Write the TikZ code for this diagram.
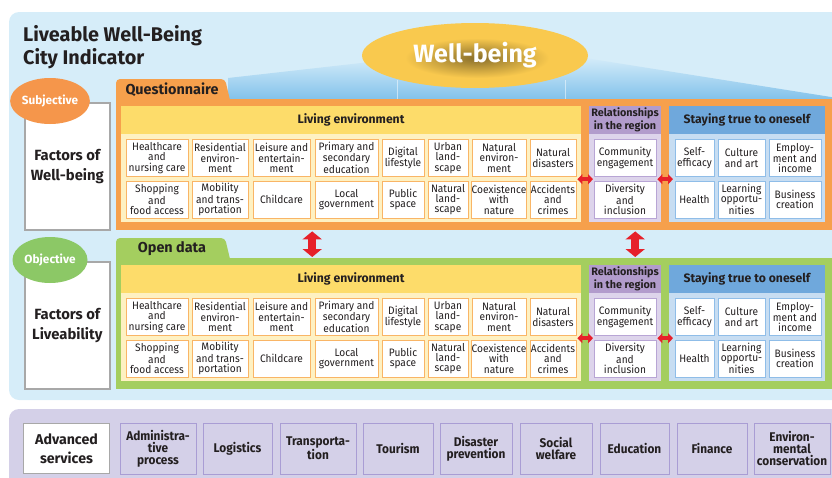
\documentclass[tikz,border=0pt]{standalone}
\usepackage{fontspec}
\setmainfont{Fira Sans}
\newfontfamily\condfont{Fira Sans}[FakeStretch=0.94]
\usetikzlibrary{arrows.meta,shapes.geometric}

\definecolor{ink}{HTML}{231F20}
\definecolor{skyback}{HTML}{D6EDF9}
\definecolor{beamtop}{HTML}{D3EBF9}
\definecolor{beambot}{HTML}{80C1EA}
\definecolor{wbyellow}{HTML}{F9C94E}
\definecolor{qorange}{HTML}{F6A04C}
\definecolor{subjorange}{HTML}{F5964B}
\definecolor{ogreen}{HTML}{A4CE5F}
\definecolor{objgreen}{HTML}{8CC866}
\definecolor{lehead}{HTML}{FDDC6A}
\definecolor{lebody}{HTML}{FEF1C2}
\definecolor{leline}{HTML}{F9B566}
\definecolor{relhead}{HTML}{B29CCC}
\definecolor{relbody}{HTML}{DDD4EB}
\definecolor{relline}{HTML}{B8A5D5}
\definecolor{sthead}{HTML}{6FA8DC}
\definecolor{stbody}{HTML}{C7DDF2}
\definecolor{stline}{HTML}{8FBDE8}
\definecolor{advback}{HTML}{D4D0E8}
\definecolor{advline}{HTML}{A99DD4}
\definecolor{boxgray}{HTML}{A8A8A8}
\definecolor{arrred}{HTML}{E6202A}

\tikzset{
  cell/.style={draw=#1, fill=white, line width=0.9pt, inner sep=0pt, align=center,
    minimum height=37pt, text=ink, font=\condfont\fontsize{10.8}{10.4}\selectfont},
  panelbox/.style={inner sep=0pt, anchor=north west},
  headtext/.style={text=ink, align=center, font=\fontsize{12.2}{13}\selectfont\bfseries},
  factorbox/.style={draw=boxgray, line width=1.6pt, fill=white, minimum width=85pt,
    inner sep=0pt, align=center, text=ink, font=\fontsize{14.8}{19.5}\selectfont\bfseries},
  tag/.style={ellipse, minimum width=75pt, minimum height=46pt, inner sep=0pt,
    text=white, font=\fontsize{11.8}{13}\selectfont\bfseries},
  harrow/.style={draw=arrred, line width=4pt, shorten <=-4pt, shorten >=-4pt,
    {Triangle[length=5pt,width=10pt]}-{Triangle[length=5pt,width=10pt]}},
  varrow/.style={draw=arrred, line width=7.5pt, shorten <=1pt, shorten >=1pt,
    {Triangle[length=8pt,width=19pt]}-{Triangle[length=8pt,width=19pt]}},
  service/.style={draw=advline, line width=1pt, fill=advback, minimum height=51pt,
    inner sep=0pt, align=center, text=ink, font=\condfont\fontsize{12.6}{11.8}\selectfont\bfseries}
}

\begin{document}
\begin{tikzpicture}[x=1pt,y=-1pt]
\useasboundingbox (0,0) rectangle (832,477);
\clip (0,0) rectangle (832,477);
\fill[skyback, rounded corners=10pt] (9,12) rectangle (860,400);
\fill[advback, rounded corners=10pt] (9,409) rectangle (860,500);

\node[anchor=north west, align=left, inner sep=0pt, text=ink,
  font=\fontsize{19.8}{23.5}\selectfont\bfseries] (title) at (23,25) {Liveable Well-Being\\City Indicator};

\shade[top color=beamtop, bottom color=beambot] (228,100) -- (228,78) -- (370,62) -- (585,58) -- (850,100) -- cycle;
\draw[white, opacity=.5] (397,80) -- (397,100) (565,80) -- (565,100);
\node[ellipse, fill=wbyellow, minimum width=226pt, minimum height=65pt] (wb) at (475,55.5) {};
\shade[inner color=black!45!wbyellow, outer color=wbyellow] (477,58) ellipse [x radius=72, y radius=20];
\node[text=white, font=\fontsize{25}{27}\selectfont\bfseries] (wbtext) at (wb) {Well-being};

\foreach \p/\dy/\pc/\ec/\tab/\kind/\fac in {q/0/qorange/subjorange/Questionnaire/Subjective/{Factors of\\Well-being},
    o/159/ogreen/objgreen/Open data/Objective/{Factors of\\Liveability}}{
  \begin{scope}[yshift={-\dy pt}]
    \fill[\pc] (116,100) [rounded corners=4pt] -- (116,79) -- (225,79) [sharp corners] -- (230,100) -- cycle;
    \node[panelbox, fill=\pc, minimum width=734pt, minimum height=131pt] (\p-panel) at (116,99) {};
    \node[text=ink, font=\fontsize{14.4}{15}\selectfont\bfseries] (\p-tab) at (172,90) {\tab};
    \node[factorbox, minimum height=127pt, anchor=north west] (\p-fac) at (24,102) {\fac};
    \node[tag, fill=\ec] (\p-tag) at (50,101) {\kind};

    \node[panelbox, fill=lebody, minimum width=460pt, minimum height=116pt] (\p-le) at (121,106) {};
    \fill[lehead] (121,106) rectangle (581,134);
    \node[headtext] (\p-leh) at (351,120) {Living environment};
    \foreach \l/\r/\ta/\tb [count=\i] in {126/188/{Healthcare\\and\\nursing care}/{Shopping\\and\\food access},
        192/248/{Residential\\environ-\\ment}/{Mobility\\and trans-\\portation},
        253/310/{Leisure and\\entertain-\\ment}/Childcare,
        315/378/{Primary and\\secondary\\education}/{Local\\government},
        382/424/{Digital\\lifestyle}/{Public\\space},
        428/468/{Urban\\land-\\scape}/{Natural\\land-\\scape},
        472/526/{Natural\\environ-\\ment}/{Coexistence\\with\\nature},
        530/576/{Natural\\disasters}/{Accidents\\and\\crimes}}{
      \node[cell=leline, minimum width={(\r-\l)*1pt}] (\p-le-1-\i) at ({(\l+\r)/2},158) {\ta};
      \node[cell=leline, minimum width={(\r-\l)*1pt}] (\p-le-2-\i) at ({(\l+\r)/2},199.5) {\tb};
    }

    \node[panelbox, fill=relbody, minimum width=72pt, minimum height=116pt] (\p-rel) at (589,106) {};
    \fill[relhead] (589,106) rectangle (661,134);
    \node[headtext, font=\fontsize{10.8}{13}\selectfont\bfseries] (\p-relh) at (625,120) {Relationships\\in the region};
    \node[cell=relline, minimum width=62pt] (\p-rel-1) at (625,158) {Community\\engagement};
    \node[cell=relline, minimum width=62pt] (\p-rel-2) at (625,199.5) {Diversity\\and\\inclusion};

    \node[panelbox, fill=stbody, minimum width=156pt, minimum height=116pt] (\p-st) at (669,106) {};
    \fill[sthead] (669,106) rectangle (825,134);
    \node[headtext] (\p-sth) at (747,120) {Staying true to oneself};
    \foreach \l/\r/\ta/\tb [count=\i] in {675/714/{Self-\\efficacy}/Health,
        718/765/{Culture\\and art}/{Learning\\opportu-\\nities},
        769/821/{Employ-\\ment and\\income}/{Business\\creation}}{
      \node[cell=stline, minimum width={(\r-\l)*1pt}] (\p-st-1-\i) at ({(\l+\r)/2},158) {\ta};
      \node[cell=stline, minimum width={(\r-\l)*1pt}] (\p-st-2-\i) at ({(\l+\r)/2},199.5) {\tb};
    }

    \draw[harrow] ([yshift=-15pt]\p-le.east) -- ([yshift=-15pt]\p-rel.west);
    \draw[harrow] ([yshift=-15pt]\p-rel.east) -- ([yshift=-15pt]\p-st.west);
  \end{scope}
}

\draw[varrow] ([xshift=-171pt]q-panel.south) -- ([xshift=-171pt]o-panel.north);
\draw[varrow] ([xshift=152pt]q-panel.south) -- ([xshift=152pt]o-panel.north);

\node[factorbox, minimum width=86pt, minimum height=50pt, font=\fontsize{14.2}{19}\selectfont\bfseries] (adv) at (66.5,448.5) {Advanced\\services};
\foreach \l/\r/\t [count=\i] in {120/196/{Administra-\\tive\\process}, 203/272/Logistics,
    280/356/{Transporta-\\tion}, 363/433/Tourism, 440/512/{Disaster\\prevention},
    520/592/{Social\\welfare}, 600/669/Education, 677/747/Finance,
    754/830/{Environ-\\mental\\conservation}}{
  \node[service, minimum width={(\r-\l)*1pt}] (svc-\i) at ({(\l+\r)/2},448.5) {\t};
}
\end{tikzpicture}
\end{document}
